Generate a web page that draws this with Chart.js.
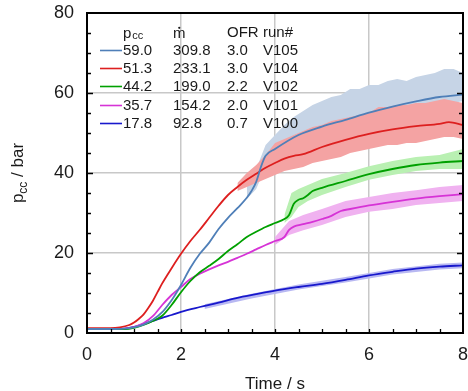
<!DOCTYPE html>
<html><head><meta charset="utf-8">
<script src="https://cdn.jsdelivr.net/npm/chart.js@4.4.1/dist/chart.umd.min.js"></script>
<style>html,body{margin:0;padding:0;background:#fff}</style>
</head><body>
<canvas id="c" width="468" height="391" style="width:468px;height:391px;display:block"></canvas>
<script>
// ---- data ----
const runs   = ['V105','V104','V102','V101','V100'];
const pccAvg = ['59.0','51.3','44.2','35.7','17.8'];
const mdot   = ['309.8','233.1','199.0','154.2','92.8'];
const ofr    = ['3.0','3.0','2.2','2.0','0.7'];
const xTickLabels = [0,2,4,6,8];
const yTickLabels = [0,20,40,60,80];

const t105 = [0,0.5,0.8,1.0,1.2,1.4,1.6,1.8,1.9,2.0,2.2,2.4,2.6,2.8,3.0,3.2,3.4,3.5,3.6,3.7,3.8,4.0,4.5,5.0,5.5,6.0,6.5,7.0,7.5,8.0];
const p105 = [1.0,1.0,1.1,1.4,2.1,3.3,5.2,8.2,10.0,12.0,16.3,19.8,22.6,26.0,28.8,31.2,33.8,35.5,37.8,41.5,44.3,46.0,49.5,51.6,53.3,55.1,56.6,57.9,59.0,59.6];
const t104 = [0,0.5,0.7,0.9,1.0,1.1,1.2,1.3,1.4,1.5,1.6,1.8,2.0,2.2,2.4,2.6,2.8,3.0,3.2,3.4,3.6,3.8,4.0,4.2,4.4,4.6,5.0,5.5,6.0,6.5,7.0,7.5,7.7,8.0];
const p104 = [1.2,1.2,1.4,2.0,2.6,3.5,4.6,6.2,8.0,10.2,12.4,16.2,19.8,23.0,25.8,28.8,31.8,34.5,36.5,38.3,39.8,41.3,42.5,43.6,44.3,44.7,46.5,48.3,49.8,50.9,51.7,52.3,52.7,52.0];
const t102 = [0,0.8,1.0,1.2,1.4,1.6,1.8,2.0,2.2,2.4,2.6,2.8,3.0,3.2,3.4,3.6,3.8,4.0,4.2,4.3,4.4,4.5,4.6,4.7,4.8,5.0,5.5,6.0,6.5,7.0,7.5,8.0];
const p102 = [1.0,1.0,1.3,2.0,3.0,4.3,7.0,10.2,13.0,15.2,16.8,18.5,20.5,22.2,24.0,25.3,26.5,27.5,28.5,29.5,32.3,33.3,33.7,34.5,35.5,36.3,38.0,39.7,41.0,42.0,42.6,43.0];
const t101 = [0,0.8,1.0,1.2,1.4,1.6,1.8,2.0,2.2,2.4,2.6,2.8,3.0,3.2,3.4,3.6,3.8,4.0,4.2,4.3,4.4,4.6,4.8,5.0,5.2,5.4,5.6,6.0,6.5,7.0,7.5,8.0];
const p101 = [1.0,1.1,1.5,2.4,4.2,7.0,9.5,11.5,13.5,14.8,15.9,16.9,17.8,18.8,19.8,20.9,22.0,23.0,24.0,25.8,26.6,27.2,27.8,28.5,29.3,30.5,31.0,31.9,32.8,33.6,34.2,34.7];
const t100 = [0,0.5,0.8,1.0,1.2,1.4,1.6,1.8,2.0,2.4,2.8,3.2,3.6,4.0,4.5,5.0,5.5,6.0,6.5,7.0,7.5,8.0];
const p100 = [1.0,1.0,1.1,1.5,2.2,3.0,3.8,4.5,5.3,6.5,7.6,8.8,9.7,10.6,11.5,12.3,13.3,14.4,15.3,16.1,16.6,16.9];

// fluctuation envelopes (upper / lower) of the raw signals
const bt105 = [3.4,3.6,3.8,4.0,4.2,4.4,4.6,4.8,5.0,5.2,5.4,5.6,5.8,6.0,6.2,6.4,6.6,6.8,7.0,7.2,7.4,7.6,7.8,8.0];
const hi105 = [36.5,41.0,47.0,49.5,52.0,54.0,55.5,57.0,58.0,59.0,59.5,61.0,61.0,62.0,62.0,63.0,63.5,63.0,64.0,64.5,65.0,66.0,66.0,65.0];
const lo105 = [33.5,36.0,41.5,43.0,46.0,47.0,48.5,49.5,50.5,51.0,52.0,52.5,53.0,53.5,54.0,54.5,55.0,55.5,56.0,56.5,57.0,57.0,57.5,58.0];
const bt104 = [3.2,3.4,3.6,3.8,4.0,4.2,4.4,4.6,4.8,5.0,5.2,5.4,5.6,5.8,6.0,6.2,6.4,6.6,6.8,7.0,7.2,7.4,7.6,7.8,8.0];
const hi104 = [37.5,40.0,42.0,44.5,47.5,48.5,49.5,50.5,51.5,52.0,53.0,53.5,54.0,54.5,55.0,56.5,56.5,57.0,57.0,57.5,57.5,58.0,58.5,58.0,57.5];
const lo104 = [35.5,36.5,37.5,38.5,39.5,40.5,41.0,41.5,42.5,43.0,43.5,44.0,45.0,45.5,46.0,46.5,47.0,47.0,47.5,47.5,48.0,48.5,49.0,49.0,48.5];
const bt102 = [4.2,4.35,4.5,4.7,5.0,5.5,6.0,6.5,7.0,7.5,8.0];
const hi102 = [29.5,35.0,36.0,37.0,38.5,40.0,41.7,43.0,44.0,44.5,46.0];
const lo102 = [27.5,29.0,31.5,33.0,34.5,36.5,38.3,39.5,40.5,41.0,41.0];
const bt101 = [4.0,4.3,4.6,5.0,5.5,6.0,6.5,7.0,7.5,8.0];
const hi101 = [24.0,28.0,29.5,31.0,33.0,34.0,35.0,35.7,36.5,37.0];
const lo101 = [22.0,24.5,25.7,27.0,29.0,30.3,31.0,32.0,32.5,33.0];
const bt100 = [2.5,3.5,4.5,5.5,6.5,7.5,8.0];
const hi100 = [7.2,9.8,12.1,14.0,16.0,17.3,17.6];
const lo100 = [6.0,8.6,10.9,12.6,14.6,15.9,16.2];

// ---- styling ----
const FONT = '"Liberation Sans", Arial, Helvetica, sans-serif';
const TXT = '#1a1a1a';
const lineCols = ['#4f7fb8','#dd1f1f','#00a000','#d633d6','#1818cc'];
const bandCols = ['#c6d4e6','#f4a3a3','#b9f0b2','#f0b2f0','#b8b8f2'];

const pts = (ts, ps) => ts.map((t, i) => ({x: t, y: ps[i]}));
const mains = [[t105,p105],[t104,p104],[t102,p102],[t101,p101],[t100,p100]];
const bands = [[bt105,hi105,lo105],[bt104,hi104,lo104],[bt102,hi102,lo102],[bt101,hi101,lo101],[bt100,hi100,lo100]];

const datasets = [];
mains.forEach((m, i) => datasets.push({
  label: runs[i], data: pts(m[0], m[1]), borderColor: lineCols[i], borderWidth: 1.8,
  pointRadius: 0, fill: false, cubicInterpolationMode: 'monotone', order: 0
}));
bands.forEach((b, i) => {
  datasets.push({label: runs[i] + ' max', data: pts(b[0], b[1]), borderWidth: 0, borderColor: 'rgba(0,0,0,0)',
    backgroundColor: bandCols[i], pointRadius: 0, fill: '+1', order: 6 - i});
  datasets.push({label: runs[i] + ' min', data: pts(b[0], b[2]), borderWidth: 0, borderColor: 'rgba(0,0,0,0)',
    pointRadius: 0, fill: false, order: 6 - i});
});

const decor = {
  id: 'decor',
  afterDraw(chart) {
    const ctx = chart.ctx, a = chart.chartArea, xs = chart.scales.x, ys = chart.scales.y;
    ctx.save();
    // inward tick marks
    ctx.strokeStyle = '#000'; ctx.lineWidth = 1.3;
    ctx.beginPath();
    for (let v = 0.5; v < 8; v += 0.5) { const x = Math.round(xs.getPixelForValue(v)) + 0.5; ctx.moveTo(x, a.bottom); ctx.lineTo(x, a.bottom - 4); }
    for (let v = 5; v < 80; v += 5) { const y = Math.round(ys.getPixelForValue(v)) + 0.5;
      const L = v % 20 === 0 ? 6 : 4;
      ctx.moveTo(a.left, y); ctx.lineTo(a.left + L, y); ctx.moveTo(a.right, y); ctx.lineTo(a.right - L, y); }
    ctx.stroke();
    // frame
    ctx.lineWidth = 2; ctx.strokeRect(a.left, a.top, a.right - a.left, a.bottom - a.top);
    // y axis title with subscript
    ctx.fillStyle = TXT; ctx.textBaseline = 'alphabetic'; ctx.textAlign = 'left';
    ctx.translate(23, (a.top + a.bottom) / 2); ctx.rotate(-Math.PI / 2);
    ctx.font = '17px ' + FONT; const w1 = ctx.measureText('p').width;
    ctx.font = '12px ' + FONT; const w2 = ctx.measureText('cc').width;
    ctx.font = '17px ' + FONT; const w3 = ctx.measureText(' / bar').width;
    let x0 = -(w1 + w2 + w3) / 2;
    ctx.fillText('p', x0, 0);
    ctx.font = '12px ' + FONT; ctx.fillText('cc', x0 + w1, 4);
    ctx.font = '17px ' + FONT; ctx.fillText(' / bar', x0 + w1 + w2, 0);
    ctx.setTransform(1, 0, 0, 1, 0, 0);
    // legend table
    const colX = [123, 173, 227, 263];
    const hb = 37.5;
    ctx.textBaseline = 'alphabetic'; ctx.fillStyle = TXT;
    ctx.font = '15px ' + FONT; ctx.fillText('p', colX[0], hb);
    const pw = ctx.measureText('p').width;
    ctx.font = '11px ' + FONT; ctx.fillText('cc', colX[0] + pw + 1, hb + 1);
    ctx.font = '15px ' + FONT;
    const mw = ctx.measureText('m').width;
    ctx.fillText('m', colX[1], hb);
    ctx.beginPath(); ctx.arc(colX[1] + mw / 2, 27.8, 1.1, 0, Math.PI * 2); ctx.fill();
    ctx.fillText('OFR', colX[2], hb - 0.5); ctx.fillText('run#', colX[3], hb - 0.5);
    for (let i = 0; i < runs.length; i++) {
      const b = 54.8 + i * 18.3;
      const ly = Math.round(b - 5) + 0.5;
      ctx.strokeStyle = lineCols[i]; ctx.lineWidth = 1.6;
      ctx.beginPath(); ctx.moveTo(100, ly); ctx.lineTo(122, ly); ctx.stroke();
      ctx.fillText(pccAvg[i], colX[0], b); ctx.fillText(mdot[i], colX[1], b);
      ctx.fillText(ofr[i], colX[2], b); ctx.fillText(runs[i], colX[3], b);
    }
    ctx.restore();
  }
};

new Chart(document.getElementById('c'), {
  type: 'line',
  data: {datasets},
  plugins: [decor],
  options: {
    responsive: false, animation: false, devicePixelRatio: 1,
    layout: {padding: {top: 13, right: 5, left: 0, bottom: 0}},
    plugins: {legend: {display: false}, tooltip: {enabled: false}, filler: {propagate: false}},
    scales: {
      x: {type: 'linear', min: 0, max: 8,
        afterBuildTicks: s => { s.ticks = xTickLabels.map(v => ({value: v})); },
        ticks: {font: {family: FONT, size: 18}, color: TXT, padding: 11, maxRotation: 0},
        grid: {color: '#c8c8c8', lineWidth: 1.5, drawTicks: false},
        border: {display: false},
        title: {display: true, text: 'Time / s', font: {family: FONT, size: 17}, color: TXT, padding: {top: 0, bottom: -4}},
        afterFit: s => { s.height = 58; s.paddingLeft = 0; s.paddingRight = 0; }},
      y: {type: 'linear', min: 0, max: 80,
        afterBuildTicks: s => { s.ticks = yTickLabels.map(v => ({value: v})); },
        ticks: {font: {family: FONT, size: 18}, color: TXT, padding: 13},
        grid: {color: '#c8c8c8', lineWidth: 1.5, drawTicks: false},
        border: {display: false},
        afterFit: s => { s.width = 87; s.paddingTop = 0; s.paddingBottom = 0; }}
    }
  }
});
</script>
</body></html>
